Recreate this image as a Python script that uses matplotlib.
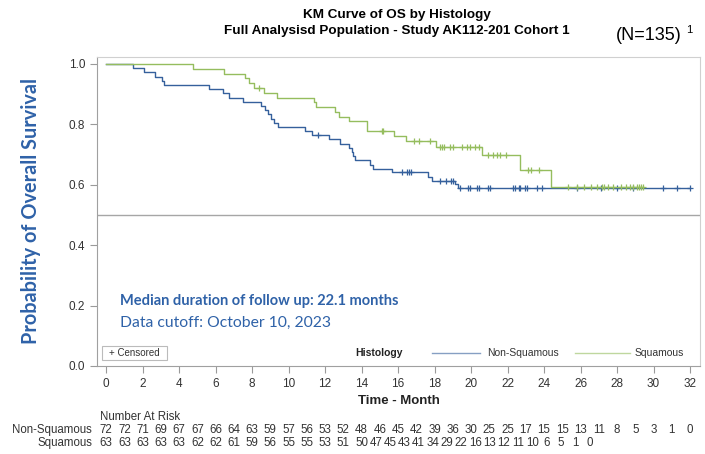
import numpy as np
import matplotlib.pyplot as plt
import matplotlib.transforms as mtrans
from matplotlib.patches import Rectangle

# Kaplan-Meier step points (time in months, survival after the event)
nsq_time = [0, 1.45, 2.05, 2.7, 3.05, 3.15, 5.65, 6.4, 6.75, 7.5, 8.5, 8.7, 8.85, 9.05, 9.2, 9.4,
            10.9, 11.3, 12.2, 12.8, 13.3, 13.45, 13.55, 13.65, 14.45, 14.65, 15.65, 17.65, 17.85,
            19.1, 19.3]
nsq_surv = [1.0, .986, .972, .958, .944, .931, .917, .903, .889, .875, .861, .847, .833, .819, .806, .792,
            .778, .764, .750, .736, .722, .708, .694, .681, .667, .653, .642, .626, .612,
            .601, .590]
nsq_cens = [11.6, 16.2, 16.5, 16.6, 16.7, 18.3, 18.65, 18.9, 19.0, 19.4, 19.85, 19.95, 20.35, 20.45,
            20.95, 21.05, 22.3, 22.4, 22.6, 22.7, 22.96, 23.05, 23.6, 23.9, 25.8, 27.1, 28.0, 28.9,
            30.5, 31.3, 32.0]

sq_time = [0, 4.75, 6.45, 7.6, 7.85, 8.1, 8.65, 9.35, 11.4, 11.5, 12.55, 12.75, 13.3, 14.3, 15.75,
           16.45, 18.1, 20.6, 22.7, 24.4]
sq_surv = [1.0, .984, .968, .952, .937, .921, .905, .889, .873, .857, .841, .825, .810, .778, .761,
           .746, .725, .698, .650, .592]
sq_cens = [8.4, 15.1, 15.2, 16.85, 17.15, 17.75, 18.3, 18.4, 18.5, 18.85, 19.0, 19.5, 19.75, 19.95,
           20.2, 20.45, 20.95, 21.2, 21.4, 21.6, 21.9, 23.1, 23.3, 23.7, 25.3, 25.8, 26.2, 26.6, 26.9,
           27.2, 27.3, 27.5, 27.8, 28.2, 28.5, 28.7, 28.9, 29.1, 29.2, 29.3, 29.4]

nsq_risk = [72, 72, 71, 69, 67, 67, 66, 64, 63, 59, 57, 56, 53, 52, 48, 46, 45, 42, 39, 36, 30, 25, 25,
            17, 15, 15, 13, 11, 8, 5, 3, 1, 0]
sq_risk = [63, 63, 63, 63, 63, 62, 62, 61, 59, 56, 55, 55, 53, 51, 50, 47, 45, 43, 41, 34, 29, 22, 16,
           13, 12, 11, 10, 6, 5, 1, 0]

x_ticks = np.arange(0, 33, 2)
y_ticks = [0.0, 0.2, 0.4, 0.6, 0.8, 1.0]

BLUE = "#35609c"
GREEN = "#95bd5e"
TXT_BLUE = "#2f62a8"
GREY_TXT = "#333333"

plt.rcParams['font.family'] = ['Liberation Sans', 'DejaVu Sans']
LATO = ['Lato', 'DejaVu Sans']

fig = plt.figure(figsize=(7.05, 4.54), dpi=100)
ax = fig.add_axes([0.1376, 0.194, 0.8554, 0.681])


def km_curve(times, surv, cens, color):
    t = np.asarray(times, float)
    s = np.asarray(surv, float)
    end = max(t[-1], max(cens))
    ax.step(np.append(t, end), np.append(s, s[-1]), where='post', color=color, lw=1.0)
    idx = np.searchsorted(t, cens, side='right') - 1
    ax.plot(cens, s[idx], ls='none', marker='+', ms=5, mew=0.9, color=color)


km_curve(nsq_time, nsq_surv, nsq_cens, BLUE)
km_curve(sq_time, sq_surv, sq_cens, GREEN)

ax.axhline(0.5, color="#a6a6a6", lw=1.0)

ax.set_xlim(-0.5, 32.55)
ax.set_ylim(0, 1.024)
ax.set_xticks(x_ticks)
ax.set_yticks(y_ticks)
ax.set_yticklabels([f"{v:.1f}" for v in y_ticks])
ax.tick_params(colors="#9a9a9a", labelcolor=GREY_TXT, labelsize=8.5, length=5, width=0.8)
for side in ['left', 'bottom']:
    ax.spines[side].set_color("#a0a0a0")
for side in ['top', 'right']:
    ax.spines[side].set_color("#d0d0d0")

ax.set_ylabel("Probability of Overall Survival", fontsize=14.3, fontweight='bold',
              color=TXT_BLUE, family=LATO, labelpad=20)
ax.set_xlabel("Time - Month", fontsize=9.5, fontweight='bold', color="#222222", labelpad=4)

tr = ax.transAxes
ax.text(0.038, 0.21, "Median duration of follow up: 22.1 months", fontsize=10.5, fontweight='bold',
        color=TXT_BLUE, family=LATO, va='center', transform=tr)
ax.text(0.038, 0.139, "Data cutoff: October 10, 2023", fontsize=11.3,
        color=TXT_BLUE, family=LATO, va='center', transform=tr)

# legend row inside the plot area
ax.add_patch(Rectangle((0.009, 0.019), 0.107, 0.045, transform=tr,
                       fc='white', ec="#bbbbbb", lw=0.8))
ax.text(0.062, 0.042, "+ Censored", transform=tr, fontsize=7, color=GREY_TXT,
        ha='center', va='center')
ax.text(0.428, 0.042, "Histology", transform=tr, fontsize=7.5, fontweight='bold',
        color="#222222", va='center')
ax.plot([0.556, 0.635], [0.042, 0.042], transform=tr, color=BLUE, lw=1.0, alpha=0.6)
ax.text(0.647, 0.042, "Non-Squamous", transform=tr, fontsize=7.5, color=GREY_TXT, va='center')
ax.plot([0.793, 0.884], [0.042, 0.042], transform=tr, color=GREEN, lw=1.0, alpha=0.6)
ax.text(0.892, 0.042, "Squamous", transform=tr, fontsize=7.5, color=GREY_TXT, va='center')

# titles
fig.text(0.563, 1 - 15 / 454, "KM Curve of OS by Histology", fontsize=9.7, fontweight='bold',
         ha='center', va='center')
fig.text(0.563, 1 - 31 / 454, "Full Analysisd Population - Study AK112-201 Cohort 1", fontsize=9.7,
         fontweight='bold', ha='center', va='center')
fig.text(682 / 705, 1 - 35 / 454, "(N=135)", fontsize=13, ha='right', va='center')
fig.text(686 / 705, 1 - 30 / 454, "1", fontsize=8, ha='left', va='center')

# number at risk table
risk_fs = 8.3
fig.text(100 / 705, 1 - 417 / 454, "Number At Risk", fontsize=risk_fs, color=GREY_TXT, va='center')
ytab1 = 1 - 430 / 454
ytab2 = 1 - 443 / 454
fig.text(92 / 705, ytab1, "Non-Squamous", fontsize=risk_fs, color=GREY_TXT,
         ha='right', va='center')
fig.text(92 / 705, ytab2, "Squamous", fontsize=risk_fs, color=GREY_TXT,
         ha='right', va='center')
tab = mtrans.blended_transform_factory(ax.transData, fig.transFigure)
for m, n in enumerate(nsq_risk):
    ax.text(m, ytab1, str(n), transform=tab, fontsize=risk_fs, color=GREY_TXT,
            ha='center', va='center', clip_on=False)
sq_pos = list(range(15)) + list(14 + np.arange(1, len(sq_risk) - 14) * 0.78)
for xpos, n in zip(sq_pos, sq_risk):
    ax.text(xpos, ytab2, str(n), transform=tab, fontsize=risk_fs, color=GREY_TXT,
            ha='center', va='center', clip_on=False)

fig.savefig("out.png", dpi=100)
